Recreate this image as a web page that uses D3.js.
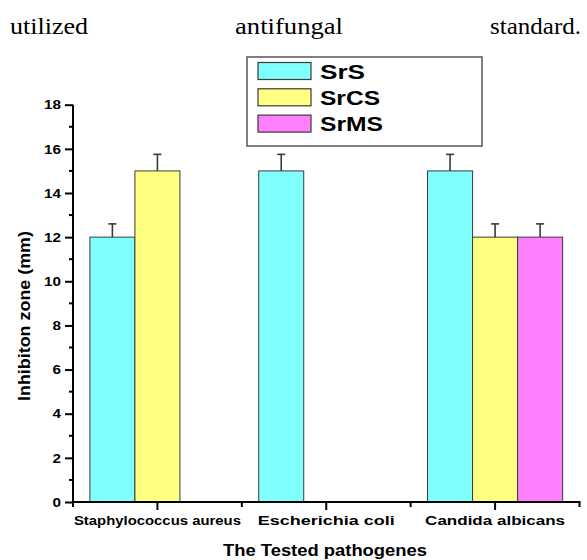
<!DOCTYPE html>
<html>
<head>
<meta charset="utf-8">
<script src="https://cdn.jsdelivr.net/npm/d3@7"></script>
<style>
  html, body { margin: 0; padding: 0; background: #fff; }
  svg { display: block; }
</style>
</head>
<body>
<svg id="chart" width="587" height="560"></svg>
<script>
// ---- data ----
const categories = ["Staphylococcus aureus", "Escherichia coli", "Candida albicans"];
const seriesNames = ["SrS", "SrCS", "SrMS"];
const valuesSrS  = [12, 15, 15];
const valuesSrCS = [15, null, 12];
const valuesSrMS = [null, null, 12];
const errorsSrS  = [0.6, 0.75, 0.75];
const errorsSrCS = [0.75, null, 0.6];
const errorsSrMS = [null, null, 0.6];
const yTicks = [0, 2, 4, 6, 8, 10, 12, 14, 16, 18];
const yMinorTicks = [1, 3, 5, 7, 9, 11, 13, 15, 17];
const headerWords = ["utilized", "antifungal", "standard."];
const yTitle = "Inhibiton zone (mm)";
const xTitle = "The Tested pathogenes";

const seriesValues = [valuesSrS, valuesSrCS, valuesSrMS];
const seriesErrors = [errorsSrS, errorsSrCS, errorsSrMS];
const colors = ["#80FFFF", "#FFFF80", "#FF80FF"];

const svg = d3.select("#chart");
const sans = "'Liberation Sans', Arial, sans-serif";
const serif = "'Liberation Serif', 'Times New Roman', serif";

// header text (justified line)
const headerPos = [{x: 10, w: 78}, {x: 235, w: 108}, {x: 490, w: 91}];
svg.selectAll("text.header").data(headerWords).join("text")
  .attr("class", "header")
  .attr("x", (d, i) => headerPos[i].x)
  .attr("y", 34)
  .attr("textLength", (d, i) => headerPos[i].w)
  .attr("lengthAdjust", "spacingAndGlyphs")
  .style("font-family", serif)
  .style("font-size", "24px")
  .attr("fill", "#000")
  .text(d => d);

// scales
const x0 = 73, x1 = 579.5, yBottom = 502, yTop = 104.7;
const x = d3.scaleBand().domain(categories).range([x0, x1]).padding(0);
const xs = d3.scaleBand().domain(seriesNames).range([x.bandwidth() * 0.1, x.bandwidth() * 0.9]).padding(0);
const y = d3.scaleLinear().domain([0, 18]).range([yBottom, yTop]);

// bars
const barData = [];
categories.forEach((c, ci) => {
  seriesNames.forEach((s, si) => {
    const v = seriesValues[si][ci];
    if (v != null) barData.push({c, s, si, v, e: seriesErrors[si][ci]});
  });
});

const g = svg.append("g");
g.selectAll("rect.bar").data(barData).join("rect")
  .attr("class", "bar")
  .attr("x", d => x(d.c) + xs(d.s))
  .attr("y", d => y(d.v))
  .attr("width", xs.bandwidth())
  .attr("height", d => y(0) - y(d.v))
  .attr("fill", d => colors[d.si])
  .attr("stroke", "#3a3a3a")
  .attr("stroke-width", 1);

// error bars (upper only)
const eb = g.selectAll("g.err").data(barData).join("g").attr("class", "err")
  .attr("stroke", "#3a3a3a").attr("stroke-width", 1.6);
eb.append("line")
  .attr("x1", d => x(d.c) + xs(d.s) + xs.bandwidth() / 2)
  .attr("x2", d => x(d.c) + xs(d.s) + xs.bandwidth() / 2)
  .attr("y1", d => y(d.v))
  .attr("y2", d => y(d.v + d.e));
eb.append("line")
  .attr("x1", d => x(d.c) + xs(d.s) + xs.bandwidth() / 2 - 4)
  .attr("x2", d => x(d.c) + xs(d.s) + xs.bandwidth() / 2 + 4)
  .attr("y1", d => y(d.v + d.e))
  .attr("y2", d => y(d.v + d.e));

// y axis
const yAxis = d3.axisLeft(y).tickValues(yTicks).tickSize(8).tickPadding(4).tickFormat(d3.format("d"));
const yg = svg.append("g").attr("transform", `translate(${x0},0)`).call(yAxis);
yg.select(".domain").attr("stroke", "#000").attr("stroke-width", 2).attr("d", `M0,${yTop}V${yBottom}`);
yg.selectAll(".tick line").attr("stroke", "#000").attr("stroke-width", 2);
yg.selectAll(".tick text")
  .attr("fill", "#000")
  .style("font-family", sans).style("font-weight", "bold").style("font-size", "13px")
  .attr("textLength", d => d >= 10 ? 17 : 8.5)
  .attr("lengthAdjust", "spacingAndGlyphs");
yg.selectAll("line.minor").data(yMinorTicks).join("line")
  .attr("class", "minor")
  .attr("x1", -4).attr("x2", 0)
  .attr("y1", d => y(d)).attr("y2", d => y(d))
  .attr("stroke", "#000").attr("stroke-width", 2);

// x axis
const xAxis = d3.axisBottom(x).tickSize(8).tickPadding(6);
const xg = svg.append("g").attr("transform", `translate(0,${yBottom})`).call(xAxis);
xg.select(".domain").attr("stroke", "#000").attr("stroke-width", 2).attr("d", `M${x0 - 1},0H${x1 + 1}`);
xg.selectAll(".tick line").attr("stroke", "#000").attr("stroke-width", 2);
xg.selectAll(".tick text")
  .attr("fill", "#000")
  .attr("dy", "0.75em")
  .style("font-family", sans).style("font-weight", "bold").style("font-size", "12.5px")
  .attr("textLength", (d, i) => [167, 137, 140][i])
  .attr("lengthAdjust", "spacingAndGlyphs");
const boundaries = [x0, ...categories.map(c => x(c) + x.bandwidth())];
xg.selectAll("line.minor").data(boundaries).join("line")
  .attr("class", "minor")
  .attr("x1", d => d).attr("x2", d => d)
  .attr("y1", 0).attr("y2", 5)
  .attr("stroke", "#000").attr("stroke-width", 2);

// axis titles
svg.append("text")
  .attr("transform", `translate(30,316) rotate(-90)`)
  .attr("text-anchor", "middle")
  .attr("textLength", 170)
  .attr("lengthAdjust", "spacingAndGlyphs")
  .style("font-family", sans).style("font-weight", "bold").style("font-size", "16px")
  .attr("fill", "#000")
  .text(yTitle);
svg.append("text")
  .attr("x", 325).attr("y", 556)
  .attr("text-anchor", "middle")
  .attr("textLength", 204)
  .attr("lengthAdjust", "spacingAndGlyphs")
  .style("font-family", sans).style("font-weight", "bold").style("font-size", "16.5px")
  .attr("fill", "#000")
  .text(xTitle);

// legend
const lg = svg.append("g");
lg.append("rect")
  .attr("x", 247).attr("y", 57).attr("width", 235).attr("height", 89)
  .attr("fill", "#fff").attr("stroke", "#555").attr("stroke-width", 1.5);
const items = lg.selectAll("g.item").data(seriesNames).join("g")
  .attr("class", "item")
  .attr("transform", (d, i) => `translate(258,${62.5 + i * 26.3})`);
items.append("rect")
  .attr("width", 53).attr("height", 17)
  .attr("fill", (d, i) => colors[i])
  .attr("stroke", "#3a3a3a").attr("stroke-width", 1.2);
items.append("text")
  .attr("x", 62).attr("y", 16)
  .attr("textLength", (d, i) => [45, 60, 63][i])
  .attr("lengthAdjust", "spacingAndGlyphs")
  .style("font-family", sans).style("font-weight", "bold").style("font-size", "21px")
  .attr("fill", "#000")
  .text(d => d);
</script>
</body>
</html>
